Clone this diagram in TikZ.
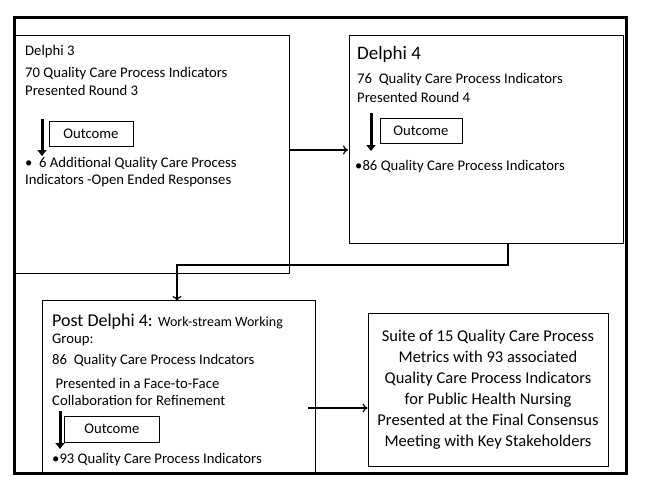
\documentclass[tikz,border=0pt]{standalone}
\usepackage{fontspec}
\setmainfont{Carlito}
\usetikzlibrary{arrows.meta}
\tikzset{
  panel/.style = {draw, line width=0.8pt},
  txt/.style = {anchor=west, inner sep=0pt, font=\fontsize{14.7}{16}\selectfont},
  big/.style = {anchor=west, inner sep=0pt, font=\fontsize{19}{21}\selectfont},
  outbox/.style = {draw, line width=0.8pt, minimum width=84pt, minimum height=25pt,
    inner sep=0pt, font=\fontsize{14.7}{16}\selectfont},
  outarrow/.style = {line width=3pt, -{Triangle[width=9pt,length=6pt]}},
  link/.style = {line width=1.2pt, -{To[length=5pt,width=9pt]}}
}
\begin{document}
\begin{tikzpicture}[x=1pt,y=-1pt]
  \useasboundingbox (0,0) rectangle (645,498);
  % frame
  \draw[line width=3pt] (14,17) rectangle (626,473);
  % Delphi 3
  \draw[panel] (14,35) rectangle (289,273);
  \coordinate (d3e) at (289,150);
  \node[txt] (d3t) at (25,52) {Delphi 3};
  \node[txt] (d3a) at (25,74) {70 Quality Care Process Indicators};
  \node[txt] (d3b) at (25,90) {Presented Round 3};
  \node[outbox] (d3o) at (91,134) {Outcome};
  \draw[outarrow] (42,119) -- (42,156);
  \node[txt] (d3c) at (25,164) {\textbullet\ \ 6 Additional Quality Care Process};
  \node[txt] (d3d) at (25,181) {Indicators -Open Ended Responses};
  % Delphi 4
  \draw[panel] (349,35) rectangle (623,243);
  \coordinate (d4w) at (348,150);
  \coordinate (d4s) at (508,243);
  \node[big] (d4t) at (357,54) {Delphi 4};
  \node[txt] (d4a) at (357,80) {76\ \ Quality Care Process Indicators};
  \node[txt] (d4b) at (357,97) {Presented Round 4};
  \node[outbox, minimum width=82pt] (d4o) at (421,131) {Outcome};
  \draw[outarrow] (371,113) -- (371,151);
  \node[txt] (d4c) at (355,167) {\textbullet 86 Quality Care Process Indicators};
  % Post Delphi 4
  \draw[panel] (42,300) -- (42,473) (42,300) -- (315,300) -- (315,473);
  \coordinate (pdn) at (177,301);
  \coordinate (pde) at (308,408);
  \node[big, font=\fontsize{18}{20}\selectfont] (pdt) at (52,322) {Post Delphi 4: {\fontsize{14}{16}\selectfont Work-stream Working}};
  \node[txt] (pda) at (52,340) {Group:};
  \node[txt] (pdb) at (52,361) {86\ \ Quality Care Process Indcators};
  \node[txt] (pdc) at (52,383) {\ Presented in a Face-to-Face};
  \node[txt] (pdd) at (52,400) {Collaboration for Refinement};
  \node[outbox, minimum width=95pt, minimum height=26pt] (pdo) at (112,429) {Outcome};
  \draw[outarrow] (60,411) -- (60,449);
  \node[txt] (pde2) at (52,460) {\textbullet 93 Quality Care Process Indicators};
  % final
  \node[draw, line width=0.8pt, minimum width=240pt, minimum height=153pt,
    align=center, font=\fontsize{16.5}{21}\selectfont] (fin) at (488,389.5)
    {Suite of 15 Quality Care Process\\ Metrics with 93 associated\\ Quality Care Process Indicators\\
     for Public Health Nursing\\ Presented at the Final Consensus\\ Meeting with Key Stakeholders};
  % links
  \draw[link] (d3e) -- (d4w);
  \draw[link] (d4s) -- (508,265) -- (177,265) -- (pdn);
  \draw[link] (pde) -- (fin.west |- pde);
\end{tikzpicture}
\end{document}
